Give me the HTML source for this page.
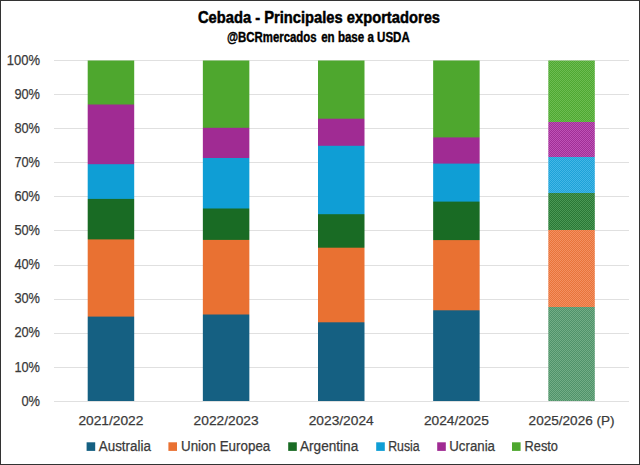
<!DOCTYPE html>
<html><head><meta charset="utf-8"><title>Cebada - Principales exportadores</title>
<style>
html,body{margin:0;padding:0;background:#fff;}
body{width:640px;height:465px;overflow:hidden;position:relative;}
svg{position:absolute;left:0;top:0;display:block;}
text{font-family:"Liberation Sans",sans-serif;}
</style></head><body>
<svg width="640" height="465" viewBox="0 0 640 465">
<defs>
<pattern id="p0" width="2" height="2" patternUnits="userSpaceOnUse"><rect width="2" height="2" fill="#4FA832"/><rect width="1" height="1" fill="#6CBC52"/><rect x="1" y="1" width="1" height="1" fill="#6CBC52"/></pattern>
<pattern id="p1" width="2" height="2" patternUnits="userSpaceOnUse"><rect width="2" height="2" fill="#A02F96"/><rect width="1" height="1" fill="#BE52B6"/><rect x="1" y="1" width="1" height="1" fill="#BE52B6"/></pattern>
<pattern id="p2" width="2" height="2" patternUnits="userSpaceOnUse"><rect width="2" height="2" fill="#1EA2D8"/><rect width="1" height="1" fill="#44B6E6"/><rect x="1" y="1" width="1" height="1" fill="#44B6E6"/></pattern>
<pattern id="p3" width="2" height="2" patternUnits="userSpaceOnUse"><rect width="2" height="2" fill="#2A7836"/><rect width="1" height="1" fill="#4A9855"/><rect x="1" y="1" width="1" height="1" fill="#4A9855"/></pattern>
<pattern id="p4" width="2" height="2" patternUnits="userSpaceOnUse"><rect width="2" height="2" fill="#E8743A"/><rect width="1" height="1" fill="#F39062"/><rect x="1" y="1" width="1" height="1" fill="#F39062"/></pattern>
<pattern id="p5" width="2" height="2" patternUnits="userSpaceOnUse"><rect width="2" height="2" fill="#50926A"/><rect width="1" height="1" fill="#72AD86"/><rect x="1" y="1" width="1" height="1" fill="#72AD86"/></pattern>
</defs>
<rect x="0" y="0" width="640" height="465" fill="#fff"/>
<rect x="54" y="401" width="575" height="1" fill="#E0E0E0"/>
<rect x="54" y="367" width="575" height="1" fill="#E0E0E0"/>
<rect x="54" y="333" width="575" height="1" fill="#E0E0E0"/>
<rect x="54" y="299" width="575" height="1" fill="#E0E0E0"/>
<rect x="54" y="265" width="575" height="1" fill="#E0E0E0"/>
<rect x="54" y="230" width="575" height="1" fill="#E0E0E0"/>
<rect x="54" y="196" width="575" height="1" fill="#E0E0E0"/>
<rect x="54" y="162" width="575" height="1" fill="#E0E0E0"/>
<rect x="54" y="128" width="575" height="1" fill="#E0E0E0"/>
<rect x="54" y="94" width="575" height="1" fill="#E0E0E0"/>
<rect x="54" y="60" width="575" height="1" fill="#E0E0E0"/>
<rect x="87.70" y="60.5" width="46.50" height="43.50" fill="#4EA72E"/>
<rect x="87.70" y="104" width="46.50" height="1" fill="#776960"/>
<rect x="87.70" y="105" width="46.50" height="59.00" fill="#A02B93"/>
<rect x="87.70" y="164" width="46.50" height="1" fill="#2C87C8"/>
<rect x="87.70" y="165" width="46.50" height="33.00" fill="#0F9ED5"/>
<rect x="87.70" y="198" width="46.50" height="1" fill="#1099C3"/>
<rect x="87.70" y="199" width="46.50" height="40.00" fill="#196B24"/>
<rect x="87.70" y="239" width="46.50" height="1" fill="#966F2C"/>
<rect x="87.70" y="240" width="46.50" height="76.00" fill="#E97132"/>
<rect x="87.70" y="316" width="46.50" height="1" fill="#946A52"/>
<rect x="87.70" y="317" width="46.50" height="84.00" fill="#156082"/>
<rect x="202.85" y="60.5" width="46.50" height="66.50" fill="#4EA72E"/>
<rect x="202.85" y="127" width="46.50" height="1" fill="#5E8E42"/>
<rect x="202.85" y="128" width="46.50" height="30.00" fill="#A02B93"/>
<rect x="202.85" y="158" width="46.50" height="1" fill="#0F9ED5"/>
<rect x="202.85" y="159" width="46.50" height="49.00" fill="#0F9ED5"/>
<rect x="202.85" y="208" width="46.50" height="1" fill="#14847C"/>
<rect x="202.85" y="209" width="46.50" height="30.00" fill="#196B24"/>
<rect x="202.85" y="239" width="46.50" height="1" fill="#2E6C25"/>
<rect x="202.85" y="240" width="46.50" height="74.00" fill="#E97132"/>
<rect x="202.85" y="314" width="46.50" height="1" fill="#7F685A"/>
<rect x="202.85" y="315" width="46.50" height="86.00" fill="#156082"/>
<rect x="318.00" y="60.5" width="46.50" height="57.50" fill="#4EA72E"/>
<rect x="318.00" y="118" width="46.50" height="1" fill="#67824C"/>
<rect x="318.00" y="119" width="46.50" height="26.00" fill="#A02B93"/>
<rect x="318.00" y="145" width="46.50" height="1" fill="#8342A0"/>
<rect x="318.00" y="146" width="46.50" height="68.00" fill="#0F9ED5"/>
<rect x="318.00" y="214" width="46.50" height="1" fill="#177547"/>
<rect x="318.00" y="215" width="46.50" height="32.00" fill="#196B24"/>
<rect x="318.00" y="247" width="46.50" height="1" fill="#576D28"/>
<rect x="318.00" y="248" width="46.50" height="74.00" fill="#E97132"/>
<rect x="318.00" y="322" width="46.50" height="1" fill="#55656A"/>
<rect x="318.00" y="323" width="46.50" height="78.00" fill="#156082"/>
<rect x="433.15" y="60.5" width="46.50" height="76.50" fill="#4EA72E"/>
<rect x="433.15" y="137" width="46.50" height="1" fill="#7F5D6B"/>
<rect x="433.15" y="138" width="46.50" height="25.00" fill="#A02B93"/>
<rect x="433.15" y="163" width="46.50" height="1" fill="#6659AD"/>
<rect x="433.15" y="164" width="46.50" height="37.00" fill="#0F9ED5"/>
<rect x="433.15" y="201" width="46.50" height="1" fill="#138A8E"/>
<rect x="433.15" y="202" width="46.50" height="38.00" fill="#196B24"/>
<rect x="433.15" y="240" width="46.50" height="1" fill="#D47031"/>
<rect x="433.15" y="241" width="46.50" height="69.00" fill="#E97132"/>
<rect x="433.15" y="310" width="46.50" height="1" fill="#55656A"/>
<rect x="433.15" y="311" width="46.50" height="90.00" fill="#156082"/>
<rect x="548.30" y="60.5" width="46.50" height="61.50" fill="url(#p0)"/>
<rect x="548.30" y="122" width="46.50" height="35.00" fill="url(#p1)"/>
<rect x="548.30" y="157" width="46.50" height="36.00" fill="url(#p2)"/>
<rect x="548.30" y="193" width="46.50" height="37.00" fill="url(#p3)"/>
<rect x="548.30" y="230" width="46.50" height="77.00" fill="url(#p4)"/>
<rect x="548.30" y="307" width="46.50" height="94.00" fill="url(#p5)"/>
<text x="319" y="23.4" text-anchor="middle" font-size="17.3" font-weight="bold" fill="#000" stroke="#000" stroke-width="0.5" textLength="242" lengthAdjust="spacingAndGlyphs">Cebada - Principales exportadores</text>
<text x="227" y="42.3" font-size="14" font-weight="bold" fill="#000" stroke="#000" stroke-width="0.4" textLength="89.6" lengthAdjust="spacingAndGlyphs">@BCRmercados</text>
<text x="321.2" y="42.3" font-size="14" font-weight="bold" fill="#000" stroke="#000" stroke-width="0.4" textLength="88.6" lengthAdjust="spacingAndGlyphs">en base a USDA</text>
<text x="40" y="405.6" text-anchor="end" font-size="14" fill="#3a3a3a" stroke="#3a3a3a" stroke-width="0.25" textLength="18.6" lengthAdjust="spacingAndGlyphs">0%</text>
<text x="40" y="371.5" text-anchor="end" font-size="14" fill="#3a3a3a" stroke="#3a3a3a" stroke-width="0.25" textLength="25.6" lengthAdjust="spacingAndGlyphs">10%</text>
<text x="40" y="337.4" text-anchor="end" font-size="14" fill="#3a3a3a" stroke="#3a3a3a" stroke-width="0.25" textLength="25.6" lengthAdjust="spacingAndGlyphs">20%</text>
<text x="40" y="303.3" text-anchor="end" font-size="14" fill="#3a3a3a" stroke="#3a3a3a" stroke-width="0.25" textLength="25.6" lengthAdjust="spacingAndGlyphs">30%</text>
<text x="40" y="269.2" text-anchor="end" font-size="14" fill="#3a3a3a" stroke="#3a3a3a" stroke-width="0.25" textLength="25.6" lengthAdjust="spacingAndGlyphs">40%</text>
<text x="40" y="235.1" text-anchor="end" font-size="14" fill="#3a3a3a" stroke="#3a3a3a" stroke-width="0.25" textLength="25.6" lengthAdjust="spacingAndGlyphs">50%</text>
<text x="40" y="201.0" text-anchor="end" font-size="14" fill="#3a3a3a" stroke="#3a3a3a" stroke-width="0.25" textLength="25.6" lengthAdjust="spacingAndGlyphs">60%</text>
<text x="40" y="166.9" text-anchor="end" font-size="14" fill="#3a3a3a" stroke="#3a3a3a" stroke-width="0.25" textLength="25.6" lengthAdjust="spacingAndGlyphs">70%</text>
<text x="40" y="132.8" text-anchor="end" font-size="14" fill="#3a3a3a" stroke="#3a3a3a" stroke-width="0.25" textLength="25.6" lengthAdjust="spacingAndGlyphs">80%</text>
<text x="40" y="98.7" text-anchor="end" font-size="14" fill="#3a3a3a" stroke="#3a3a3a" stroke-width="0.25" textLength="25.6" lengthAdjust="spacingAndGlyphs">90%</text>
<text x="40" y="64.6" text-anchor="end" font-size="14" fill="#3a3a3a" stroke="#3a3a3a" stroke-width="0.25" textLength="33.2" lengthAdjust="spacingAndGlyphs">100%</text>
<text x="110.9" y="425.2" text-anchor="middle" font-size="13.6" fill="#3a3a3a" stroke="#3a3a3a" stroke-width="0.25" textLength="65" lengthAdjust="spacingAndGlyphs">2021/2022</text>
<text x="226.1" y="425.2" text-anchor="middle" font-size="13.6" fill="#3a3a3a" stroke="#3a3a3a" stroke-width="0.25" textLength="65" lengthAdjust="spacingAndGlyphs">2022/2023</text>
<text x="341.2" y="425.2" text-anchor="middle" font-size="13.6" fill="#3a3a3a" stroke="#3a3a3a" stroke-width="0.25" textLength="65" lengthAdjust="spacingAndGlyphs">2023/2024</text>
<text x="456.4" y="425.2" text-anchor="middle" font-size="13.6" fill="#3a3a3a" stroke="#3a3a3a" stroke-width="0.25" textLength="65" lengthAdjust="spacingAndGlyphs">2024/2025</text>
<text x="571.6" y="425.2" text-anchor="middle" font-size="13.6" fill="#3a3a3a" stroke="#3a3a3a" stroke-width="0.25" textLength="86" lengthAdjust="spacingAndGlyphs">2025/2026 (P)</text>
<rect x="86.6" y="442.3" width="8.6" height="8.6" fill="#156082"/>
<text x="98.8" y="450.9" font-size="14" fill="#3a3a3a" stroke="#3a3a3a" stroke-width="0.25" textLength="52.1" lengthAdjust="spacingAndGlyphs">Australia</text>
<rect x="168.4" y="442.3" width="8.6" height="8.6" fill="#E97132"/>
<text x="181" y="450.9" font-size="14" fill="#3a3a3a" stroke="#3a3a3a" stroke-width="0.25" textLength="89.3" lengthAdjust="spacingAndGlyphs">Union Europea</text>
<rect x="288.2" y="442.3" width="8.6" height="8.6" fill="#196B24"/>
<text x="300" y="450.9" font-size="14" fill="#3a3a3a" stroke="#3a3a3a" stroke-width="0.25" textLength="58.2" lengthAdjust="spacingAndGlyphs">Argentina</text>
<rect x="376.2" y="442.3" width="8.6" height="8.6" fill="#0F9ED5"/>
<text x="388.2" y="450.9" font-size="14" fill="#3a3a3a" stroke="#3a3a3a" stroke-width="0.25" textLength="31.5" lengthAdjust="spacingAndGlyphs">Rusia</text>
<rect x="437.2" y="442.3" width="8.6" height="8.6" fill="#A02B93"/>
<text x="449.3" y="450.9" font-size="14" fill="#3a3a3a" stroke="#3a3a3a" stroke-width="0.25" textLength="45.7" lengthAdjust="spacingAndGlyphs">Ucrania</text>
<rect x="512.0" y="442.3" width="8.6" height="8.6" fill="#4EA72E"/>
<text x="524.5" y="450.9" font-size="14" fill="#3a3a3a" stroke="#3a3a3a" stroke-width="0.25" textLength="33.5" lengthAdjust="spacingAndGlyphs">Resto</text>
<rect x="0.5" y="0.5" width="639" height="464" fill="none" stroke="#333333" stroke-width="1"/>
</svg>
</body></html>
